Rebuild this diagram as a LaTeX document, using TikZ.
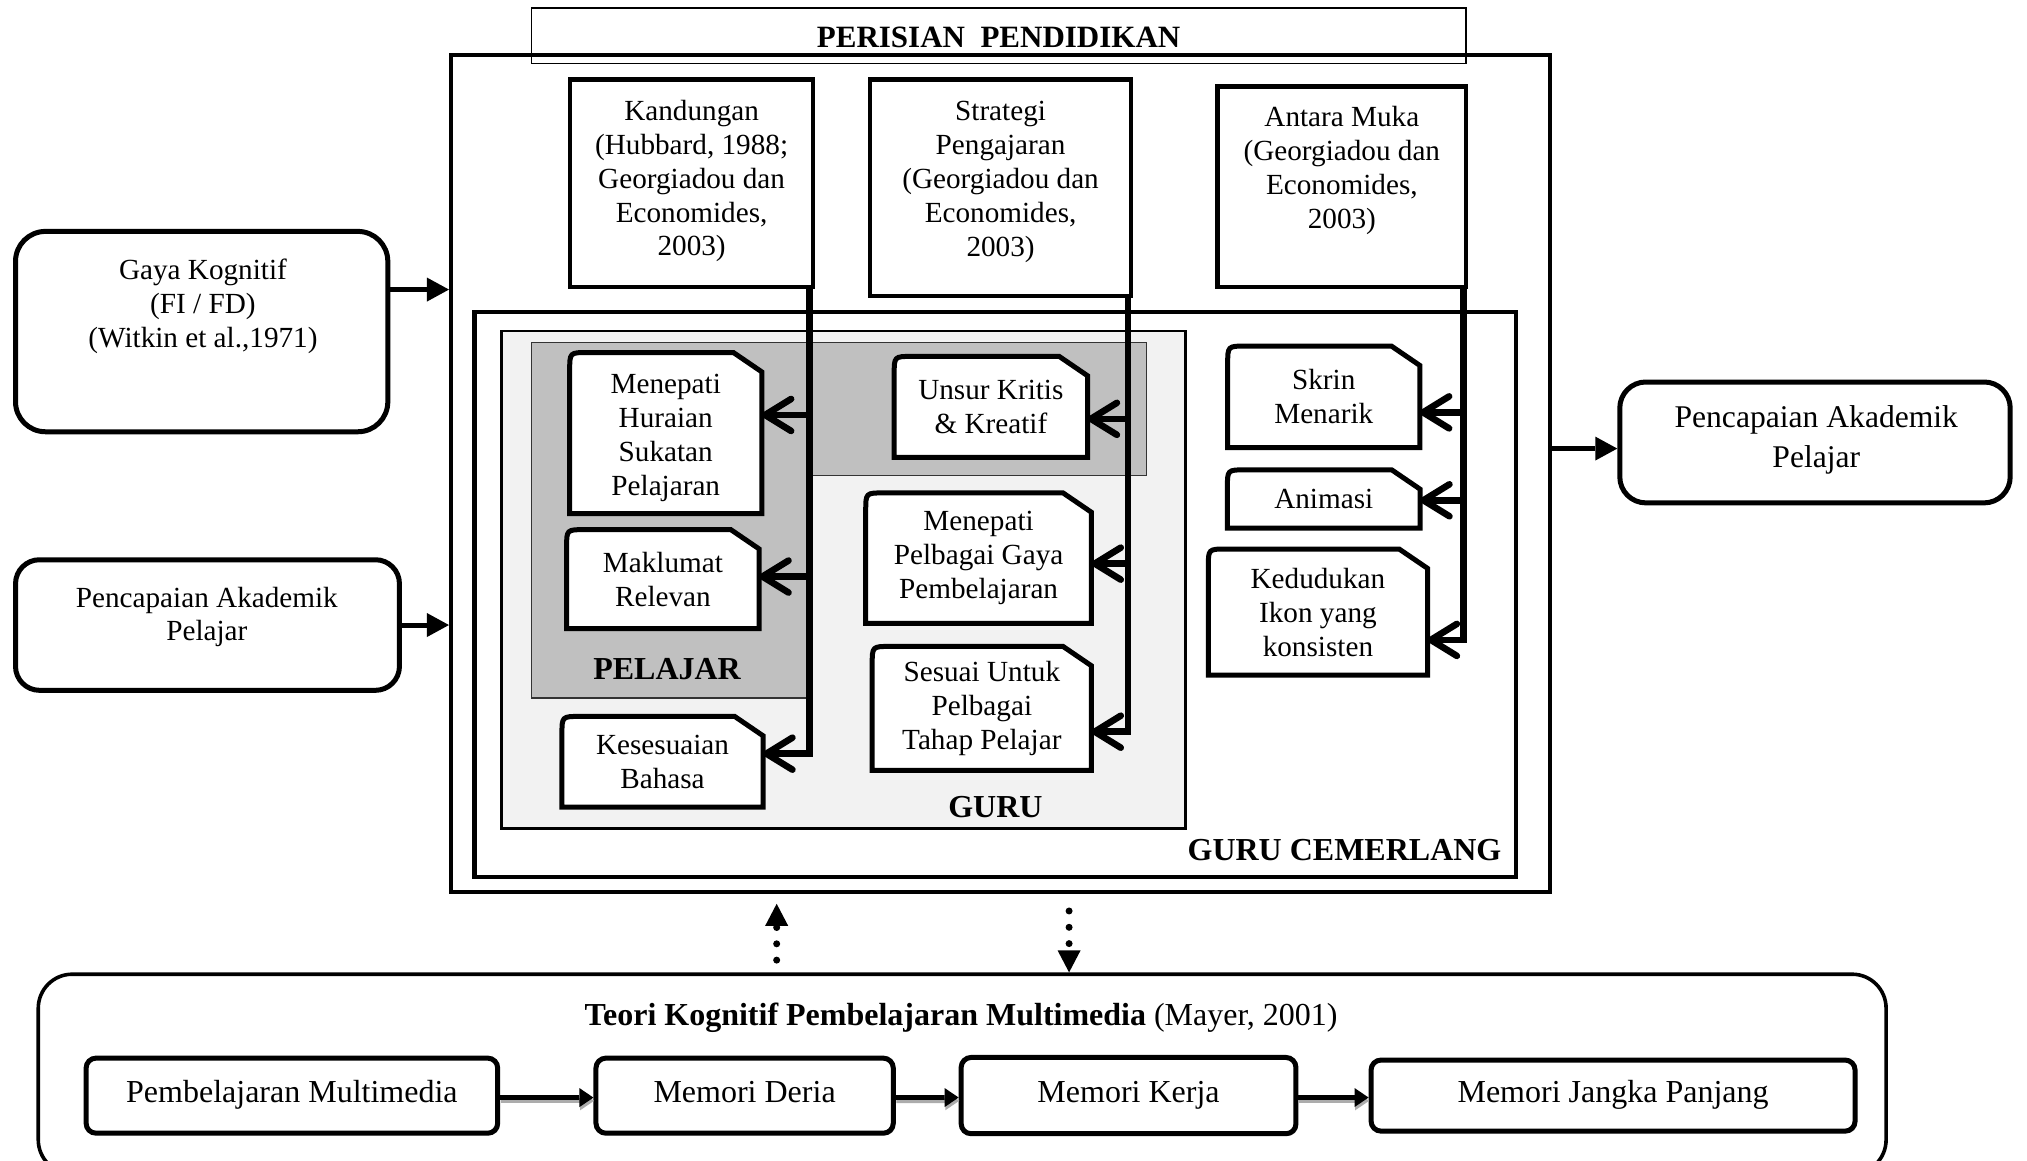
\documentclass[tikz,border=0pt]{standalone}
\usepackage{fontspec}
\setmainfont{Liberation Serif}
\usetikzlibrary{arrows.meta,shadows}
\definecolor{pelgray}{RGB}{192,192,192}
\definecolor{gurugray}{RGB}{242,242,242}
\pgfdeclarelayer{background}
\pgfdeclarelayer{middle}
\pgfsetlayers{background,middle,main}
\newcommand\fA{\fontsize{14.6pt}{17pt}\selectfont}
\newcommand\fB{\fontsize{16pt}{19pt}\selectfont}
\newcommand\fC{\fontsize{15.8pt}{20pt}\selectfont}
\newcommand\fT{\fontsize{15.5pt}{18pt}\selectfont\bfseries}
\tikzset{
 sz/.style 2 args={minimum width=#1*0.6464pt, minimum height=#2*0.6464pt},
 plainbox/.style={draw, line width=2.3pt, inner sep=0pt},
 rbox/.style={draw, line width=2.5pt, inner sep=0pt},
 txt/.style={align=center, font=\fA, inner sep=0pt},
 noteline/.style={draw, line width=2.5pt, fill=white},
 barb/.style={line width=3.3pt, -{Straight Barb[length=13pt,width=16pt,round]}},
 tri/.style={line width=2.5pt, -{Triangle[length=11pt,width=12pt,line width=0pt]}},
 dotarr/.style={line width=3.5pt, line cap=round, dash pattern=on 0pt off 8.15pt, -{Triangle[length=11pt,width=11.5pt,line width=0pt]}},
 flowbox/.style={draw, line width=2.5pt, rounded corners=5pt, fill=white, font=\fB, text height=11.2pt, text depth=4pt, inner sep=0pt, drop shadow={shadow xshift=1pt, shadow yshift=-1pt, fill=gray!60, opacity=1}},
 flow/.style={line width=2.4pt, -{Triangle[length=7pt,width=9.5pt,line width=0pt]}},
 lab/.style={font=\fB\bfseries, inner sep=0pt, anchor=base},
}
\newcommand\notebox[6]{%
 \node[txt, minimum width={#4*0.6464pt}, minimum height={#5*0.6464pt}] (#1) at (#2,#3) {#6};
 \begin{pgfonlayer}{middle}
 \draw[noteline] (#1.south west) -- ([shift={(0,14)}]#1.north west) .. controls (#1.north west) .. ([shift={(14,0)}]#1.north west) -- ([shift={(-22,0)}]#1.north east) -- ([shift={(0,15)}]#1.north east) -- (#1.south east) -- cycle;
 \end{pgfonlayer}}
\begin{document}
\begin{tikzpicture}[x=0.6464pt, y=-0.6464pt]
\useasboundingbox (0,0) rectangle (1568,898);
\begin{pgfonlayer}{background}
 \fill[white] (0,0) rectangle (1568,898);
 \node[draw, line width=1.3pt, fill=gurugray, sz={529}{385}, inner sep=0pt] (guru) at (652.5,448.5) {};
 \filldraw[fill=pelgray, draw=black!80, line width=0.6pt] (411,265) -- (887,265) -- (887,368) -- (625,368) -- (625,540) -- (411,540) -- cycle;
\end{pgfonlayer}

% outer frame and title
\node[plainbox, line width=2.2pt, sz={850}{647.5}] (outer) at (774,366.25) {};
\node[draw, line width=0.8pt, sz={723}{43}, inner sep=0pt] (title) at (772.5,27.5) {};
\node[inner sep=0pt, font=\fT] (titleT) at (772.5,29) {PERISIAN~~PENDIDIKAN};

% top boxes
\node[plainbox, sz={188}{160.5}] (kand) at (535,141.75) {};
\node[txt] (kandT) at (535,140) {Kandungan\\(Hubbard, 1988;\\Georgiadou dan\\Economides,\\2003)};
\node[plainbox, sz={202}{167.5}] (strat) at (774,145.25) {};
\node[txt] (stratT) at (774,141) {Strategi\\Pengajaran\\(Georgiadou dan\\Economides,\\2003)};
\node[plainbox, sz={192}{155}] (antara) at (1038,144.5) {};
\node[txt] (antaraT) at (1038,132) {Antara Muka\\(Georgiadou dan\\Economides,\\2003)};

% guru cemerlang
\node[plainbox, line width=2.2pt, sz={805.5}{437}] (gc) at (769.75,460) {};
\node[lab, anchor=base east] (gcL) at (1161.7,665.8) {GURU CEMERLANG};
\node[lab] (pelL) at (516,526) {PELAJAR};
\node[lab] (guruL) at (770,632) {GURU};

% notes
\notebox{hur}{515}{335}{148}{124}{\\[-2pt]Menepati\\Huraian\\Sukatan\\Pelajaran}
\notebox{mak}{512.8}{448}{148.4}{76}{Maklumat\\Relevan}
\notebox{kes}{512.5}{589.25}{155}{69.5}{Kesesuaian\\Bahasa}
\notebox{uns}{766.5}{314.7}{149}{77.4}{Unsur Kritis\\\& Kreatif}
\notebox{mpg}{757}{431.8}{174}{100.4}{Menepati\\Pelbagai Gaya\\Pembelajaran}
\notebox{ses}{759.5}{548}{169}{95.3}{Sesuai Untuk\\Pelbagai\\Tahap Pelajar}
\notebox{skr}{1024}{307}{148}{78}{Skrin\\Menarik}
\notebox{ani}{1024}{386}{148.5}{44.5}{Animasi}
\notebox{ked}{1019.5}{473.5}{169}{97}{Kedudukan\\Ikon yang\\konsisten}

% connectors from Kandungan
\coordinate (k1) at (626,321);
\coordinate (k2) at (626,446);
\coordinate (k3) at (626,583);
\draw[barb] (kand.south -| k1) -- (k3) -- (k3 -| kes.east);
\draw[barb] (k1) -- (k1 -| hur.east);
\draw[barb] (k2) -- (k2 -| mak.east);
% from Strategi
\coordinate (s1) at (872.5,324);
\coordinate (s2) at (872.5,436);
\coordinate (s3) at (872.5,566);
\draw[barb] (strat.south -| s1) -- (s3) -- (s3 -| ses.east);
\draw[barb] (s1) -- (s1 -| uns.east);
\draw[barb] (s2) -- (s2 -| mpg.east);
% from Antara Muka
\coordinate (m1) at (1132,319);
\coordinate (m2) at (1132,387);
\coordinate (m3) at (1132,495);
\draw[barb] (antara.south -| m1) -- (m3) -- (m3 -| ked.east);
\draw[barb] (m1) -- (m1 -| skr.east);
\draw[barb] (m2) -- (m2 -| ani.east);

% side boxes
\node[rbox, rounded corners=15pt, sz={288}{155}] (gaya) at (156,256.5) {};
\node[txt] (gayaT) at (157,237) {Gaya Kognitif\\(FI / FD)\\(Witkin et al.,1971)};
\node[rbox, rounded corners=12pt, sz={297}{101}] (pcl) at (160.5,483.5) {};
\node[txt, font=\fontsize{14.6pt}{16.6pt}\selectfont] (pclT) at (160,477) {Pencapaian Akademik\\Pelajar};
\node[rbox, rounded corners=13pt, sz={302}{93.5}] (pcr) at (1404,342.25) {};
\node[txt, font=\fC] (pcrT) at (1405,340.5) {Pencapaian Akademik\\Pelajar};

\path (gaya.east) ++(0,-32.5) coordinate (g1);
\draw[tri] (g1) -- (g1 -| outer.west);
\draw[tri] (pcl.east) -- (pcl.east -| outer.west);
\path (outer.east) ++(0,-19.25) coordinate (r1);
\draw[tri] (r1) -- (r1 -| pcr.west);

% theory box
\node[draw, line width=1.8pt, rounded corners=17pt, sz={1429.4}{154.4}, inner sep=0pt] (theory) at (744.3,830.8) {};
\node[inner sep=0pt, anchor=base, font=\fB] (theoryT) at (743.5,793) {\textbf{Teori Kognitif Pembelajaran Multimedia} (Mayer, 2001)};

\node[flowbox, sz={318.4}{58.1}] (pm) at (225.8,847.55) {Pembelajaran Multimedia};
\node[flowbox, sz={230}{58.1}] (md) at (576,847.55) {Memori Deria};
\node[flowbox, sz={259}{59}] (mk) at (873,847.5) {Memori Kerja};
\node[flowbox, sz={374.4}{55}] (mj) at (1247.8,847.5) {Memori Jangka Panjang};

\foreach \a/\b in {pm/md, md/mk, mk/mj} {
 \draw[flow, draw=gray!65] ([shift={(0.5,4)}]\a.east) -- ([shift={(0.5,4)}]\b.west);
 \draw[flow] ([shift={(0,1.5)}]\a.east) -- ([shift={(0,1.5)}]\b.west);
}

% dotted arrows
\path (outer.south) ++(-173.2,51) coordinate (up1);
\draw[dotarr, shorten >=4.8pt] (up1) -- (up1 |- outer.south);
\path (outer.south) ++(53,13) coordinate (dn1);
\draw[dotarr] (dn1) -- (dn1 |- theory.north);
\end{tikzpicture}
\end{document}
